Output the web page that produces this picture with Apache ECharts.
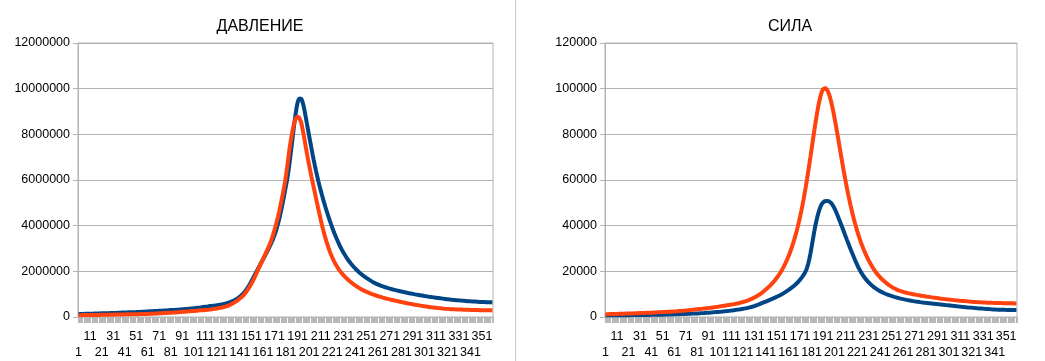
<!DOCTYPE html>
<html>
<head>
<meta charset="utf-8">
<script src="https://cdn.jsdelivr.net/npm/echarts@6/dist/echarts.min.js"></script>
<style>
html,body{margin:0;padding:0;background:#fff;}
#chart{width:1045px;height:361px;}
</style>
</head>
<body>
<div id="chart"></div>
<script>
// Category labels 1..360 (sample index)
const categories = Array.from({length: 360}, (_, i) => String(i + 1));

const titles = ['ДАВЛЕНИЕ', 'СИЛА'];
const pressureTicks = [0, 2000000, 4000000, 6000000, 8000000, 10000000, 12000000];
const forceTicks = [0, 20000, 40000, 60000, 80000, 100000, 120000];

// ДАВЛЕНИЕ, series 1 (blue), values in thousands
const pressureBlueK = [
130,131,132,134,135,137,138,140,141,143,
144,146,147,149,150,152,153,155,156,158,
159,161,162,163,165,166,168,170,172,174,
176,178,180,182,184,186,188,190,192,194,
196,198,200,202,204,206,208,211,213,215,
217,219,222,224,226,229,231,234,236,239,
242,245,248,251,254,257,260,263,266,269,
272,275,278,281,284,287,290,293,296,299,
302,305,308,311,314,318,322,326,330,334,
338,342,346,350,355,360,365,370,375,380,
385,391,397,403,409,415,421,428,435,442,
449,456,463,470,478,484,490,497,504,511,
519,527,535,544,553,563,574,586,599,613,
628,644,661,681,703,727,754,784,817,853,
893,937,985,1037,1092,1154,1224,1302,1388,1480,
1574,1669,1764,1859,1954,2049,2144,2239,2334,2429,
2524,2619,2714,2809,2906,3006,3110,3218,3332,3454,
3591,3741,3906,4086,4281,4496,4731,4981,5241,5506,
5776,6046,6376,6746,7146,7566,7996,8416,8806,9136,
9386,9546,9616,9576,9466,9286,9046,8776,8496,8216,
7936,7661,7391,7126,6871,6626,6391,6166,5951,5751,
5556,5366,5186,5011,4841,4676,4516,4361,4211,4066,
3926,3791,3661,3536,3416,3301,3191,3086,2986,2891,
2801,2716,2636,2560,2488,2420,2355,2293,2234,2178,
2124,2072,2022,1974,1930,1888,1848,1810,1773,1737,
1702,1668,1635,1603,1572,1542,1513,1486,1461,1437,
1415,1394,1374,1355,1337,1320,1304,1288,1273,1258,
1244,1230,1216,1203,1190,1177,1165,1153,1141,1129,
1117,1106,1095,1084,1073,1062,1052,1042,1032,1022,
1012,1002,992,983,974,965,956,947,938,929,
920,912,904,896,888,880,873,866,859,852,
845,838,831,824,817,811,805,799,793,787,
781,775,769,763,758,753,748,743,738,733,
728,723,718,714,710,706,702,698,694,690,
686,683,680,677,674,671,668,665,662,659,
657,655,653,651,649,647,645,643,641,639
];

// ДАВЛЕНИЕ, series 2 (orange), values in thousands
const pressureRedK = [
80,81,81,82,83,84,84,85,86,87,
87,88,89,90,90,91,92,93,93,94,
95,96,96,97,98,99,99,100,101,102,
103,104,105,106,107,108,109,110,111,112,
113,114,115,116,117,118,119,120,121,122,
123,124,125,126,127,128,129,130,132,134,
136,138,140,142,144,146,148,150,153,156,
159,162,165,168,171,174,177,180,183,186,
189,192,195,198,202,206,210,214,219,223,
227,231,235,239,243,247,251,255,259,263,
267,271,275,279,283,287,291,295,299,304,
309,314,319,324,330,337,344,351,359,367,
375,384,393,403,413,424,436,449,464,480,
500,522,546,572,600,630,662,696,732,770,
810,852,896,940,1002,1068,1138,1213,1293,1378,
1468,1563,1663,1768,1878,1994,2106,2216,2324,2430,
2536,2642,2750,2860,2972,3086,3202,3340,3490,3650,
3820,4000,4190,4395,4615,4850,5095,5350,5615,5885,
6225,6595,6985,7365,7705,8000,8260,8480,8640,8740,
8790,8770,8690,8540,8320,8050,7765,7475,7190,6915,
6650,6395,6150,5915,5675,5435,5197,4961,4727,4497,
4273,4055,3850,3660,3482,3314,3154,3002,2862,2734,
2616,2506,2404,2309,2221,2139,2063,1993,1933,1876,
1820,1768,1717,1669,1622,1578,1535,1494,1455,1418,
1382,1348,1315,1283,1253,1224,1197,1170,1145,1120,
1097,1075,1053,1033,1013,995,977,960,942,926,
910,894,880,865,850,836,822,809,796,783,
770,758,746,734,722,711,699,688,677,666,
655,645,634,624,613,603,593,584,574,565,
555,546,537,528,520,511,503,495,487,479,
471,463,456,449,442,435,428,422,416,410,
404,398,393,388,383,378,373,368,364,360,
356,352,349,346,343,340,337,335,333,331,
329,327,325,323,321,319,317,315,313,311,
309,308,307,306,305,304,303,302,301,300,
299,298,297,296,295,294,293,292,291,290
];

// СИЛА, series 1 (blue)
const forceBlue = [
700,706,712,718,724,730,736,742,748,754,
760,766,772,778,784,790,796,802,808,814,
820,826,832,838,844,850,856,862,868,874,
880,886,892,898,904,910,916,922,928,934,
940,946,952,958,964,970,976,982,990,1000,
1014,1028,1042,1056,1071,1086,1101,1116,1132,1148,
1164,1181,1198,1215,1233,1251,1269,1288,1307,1327,
1347,1368,1389,1411,1433,1456,1479,1503,1527,1553,
1580,1608,1637,1667,1698,1730,1763,1797,1832,1868,
1905,1943,1982,2022,2063,2105,2148,2192,2237,2283,
2330,2378,2427,2477,2528,2580,2633,2687,2745,2805,
2867,2931,2997,3065,3135,3207,3281,3357,3435,3515,
3597,3681,3767,3867,3975,4091,4215,4347,4487,4637,
4797,4967,5147,5337,5537,5747,5967,6167,6367,6567,
6772,6977,7187,7397,7612,7827,8047,8267,8492,8722,
8957,9197,9447,9709,9983,10269,10567,10877,11199,11533,
11879,12237,12607,12989,13383,13789,14219,14699,15219,15779,
16379,17019,17699,18399,19199,20199,21499,23199,25299,27799,
30599,33499,36399,39199,41599,43749,45649,47249,48549,49549,
50199,50599,50799,50849,50820,50700,50440,50000,49380,48570,
47600,46520,45350,44120,42850,41560,40260,38950,37630,36310,
34990,33680,32380,31090,29820,28570,27340,26140,24970,23830,
22730,21670,20650,19773,18951,18184,17471,16809,16192,15616,
15077,14575,14105,13666,13255,12871,12510,12172,11852,11551,
11268,11001,10749,10511,10286,10073,9871,9679,9496,9322,
9157,8999,8849,8704,8564,8429,8299,8173,8051,7933,
7819,7709,7603,7501,7402,7306,7214,7125,7039,6956,
6876,6798,6723,6650,6580,6512,6447,6384,6323,6264,
6207,6152,6096,6040,5984,5928,5872,5816,5760,5704,
5648,5592,5536,5480,5424,5368,5312,5257,5202,5147,
5092,5037,4982,4927,4872,4817,4762,4708,4654,4600,
4546,4494,4443,4393,4343,4294,4246,4199,4153,4107,
4062,4018,3975,3932,3890,3849,3809,3769,3730,3692,
3654,3617,3580,3544,3508,3473,3438,3404,3370,3336,
3306,3278,3252,3228,3206,3186,3168,3152,3138,3126,
3116,3107,3099,3092,3086,3081,3077,3074,3072,3071
];

// СИЛА, series 2 (orange)
const forceRed = [
1200,1210,1230,1240,1260,1270,1290,1300,1320,1330,
1350,1370,1380,1400,1410,1430,1450,1460,1480,1500,
1510,1530,1550,1570,1580,1600,1620,1640,1660,1680,
1700,1720,1740,1760,1780,1800,1820,1840,1860,1880,
1900,1930,1950,1970,2000,2020,2050,2070,2100,2130,
2160,2190,2220,2250,2280,2310,2340,2370,2400,2430,
2460,2490,2520,2560,2600,2640,2680,2720,2760,2800,
2850,2890,2940,2990,3040,3090,3140,3200,3260,3310,
3360,3410,3460,3510,3560,3620,3680,3740,3800,3860,
3920,3990,4060,4130,4200,4270,4340,4410,4490,4570,
4650,4730,4810,4890,4970,5050,5130,5210,5290,5370,
5450,5535,5624,5719,5820,5926,6039,6159,6285,6419,
6561,6711,6870,7038,7217,7406,7606,7817,8042,8279,
8530,8797,9078,9377,9693,10028,10382,10758,11155,11576,
12028,12451,12893,13358,13848,14363,14907,15482,16084,16725,
17397,18110,18865,19663,20511,21410,22355,23365,24435,25574,
26781,28069,29436,30892,32440,34090,35843,37703,39688,41798,
44035,46395,48903,51540,54320,57234,60283,63448,66720,70072,
73482,76910,80320,83655,86866,89879,92640,95070,97107,98693,
99778,100330,100350,99935,99120,97921,96368,94494,92339,89946,
87359,84621,81774,78854,75898,72936,69994,67095,64256,61491,
58813,56224,53739,51354,49072,46894,44818,42842,40964,39180,
37487,35882,34360,32917,31550,30253,29025,27859,26756,25707,
24714,23771,22876,22025,21218,20450,19720,19025,18425,17855,
17315,16805,16320,15860,15420,15000,14600,14220,13860,13520,
13200,12900,12620,12360,12120,11895,11685,11490,11310,11142,
10986,10841,10706,10581,10466,10358,10258,10160,10063,9968,
9874,9781,9690,9600,9511,9424,9338,9253,9170,9088,
9007,8928,8850,8773,8698,8624,8551,8480,8410,8341,
8274,8208,8143,8080,8018,7957,7897,7838,7780,7722,
7665,7609,7554,7500,7447,7395,7343,7292,7242,7193,
7145,7097,7050,7004,6959,6914,6870,6827,6784,6742,
6701,6660,6620,6580,6541,6511,6482,6454,6427,6401,
6376,6352,6329,6307,6286,6266,6246,6227,6209,6192,
6175,6159,6144,6129,6115,6101,6088,6075,6063,6051,
6040,6029,6019,6009,5999,5990,5981,5972,5964,5956
];

const THOUSAND = 1000;
const pressureBlue = pressureBlueK.map(v => v * THOUSAND);
const pressureRed = pressureRedK.map(v => v * THOUSAND);

const FONT = '"Liberation Sans", Arial, sans-serif';
const GRID_COLOR = '#b3b3b3';
const BLUE = '#004586';
const RED = '#ff420e';
const LABEL = {color: '#000', fontFamily: FONT, fontSize: 12.5, lineHeight: 16};

// main category axis: line, ticks and the upper row of labels (11, 31, 51, ...)
function xAxisMain(gridIndex) {
  return {
    type: 'category', gridIndex: gridIndex, data: categories, boundaryGap: true, position: 'bottom',
    axisLine: {show: true, lineStyle: {color: GRID_COLOR, width: 1}},
    axisTick: {show: true, interval: 0, length: 6, lineStyle: {color: '#b8b8b8', width: 1}},
    axisLabel: Object.assign({interval: (i) => i % 20 === 10, margin: 12}, LABEL),
    splitLine: {show: false}
  };
}
// companion axis carrying the lower row of labels (1, 21, 41, ...)
function xAxisLower(gridIndex) {
  return {
    type: 'category', gridIndex: gridIndex, data: categories, boundaryGap: true, position: 'bottom', offset: 0,
    axisLine: {show: false}, axisTick: {show: false},
    axisLabel: Object.assign({interval: (i) => i % 20 === 0, margin: 28}, LABEL),
    splitLine: {show: false}
  };
}
function yAxis(gridIndex, ticks) {
  return {
    type: 'value', gridIndex: gridIndex,
    min: ticks[0], max: ticks[ticks.length - 1], interval: ticks[1] - ticks[0],
    axisLine: {show: true, lineStyle: {color: GRID_COLOR, width: 1}},
    axisTick: {show: true, length: 5, lineStyle: {color: GRID_COLOR}},
    axisLabel: {margin: 8, color: '#000', fontFamily: FONT, fontSize: 12.5, formatter: (v) => String(v)},
    splitLine: {show: true, lineStyle: {color: GRID_COLOR, width: 1}}
  };
}
function line(name, data, color, xIdx, yIdx) {
  return {
    name: name, type: 'line', data: data, xAxisIndex: xIdx, yAxisIndex: yIdx,
    showSymbol: false, symbol: 'none', smooth: false,
    lineStyle: {color: color, width: 4}, itemStyle: {color: color},
    emphasis: {disabled: true}
  };
}

const chart = echarts.init(document.getElementById('chart'), null, {renderer: 'canvas'});
chart.setOption({
  animation: false,
  backgroundColor: '#fff',
  textStyle: {fontFamily: FONT},
  title: [
    {text: titles[0], left: 255, top: 14, textAlign: 'center',
     textStyle: {fontFamily: FONT, fontSize: 16, fontWeight: 'normal', color: '#000'}},
    {text: titles[1], left: 785, top: 14, textAlign: 'center',
     textStyle: {fontFamily: FONT, fontSize: 16, fontWeight: 'normal', color: '#000'}}
  ],
  grid: [
    {left: 78, right: 552, top: 43, bottom: 40, show: true, borderColor: GRID_COLOR, borderWidth: 1, backgroundColor: 'transparent'},
    {left: 605, right: 28, top: 43, bottom: 40, show: true, borderColor: GRID_COLOR, borderWidth: 1, backgroundColor: 'transparent'}
  ],
  xAxis: [xAxisMain(0), xAxisLower(0), xAxisMain(1), xAxisLower(1)],
  yAxis: [yAxis(0, pressureTicks), yAxis(1, forceTicks)],
  series: [
    line('Давление 1', pressureBlue, BLUE, 0, 0),
    line('Давление 2', pressureRed, RED, 0, 0),
    line('Сила 1', forceBlue, BLUE, 2, 1),
    line('Сила 2', forceRed, RED, 2, 1)
  ],
  graphic: [
    {type: 'line', shape: {x1: 515.5, y1: 0, x2: 515.5, y2: 361}, style: {stroke: '#c8c8c8', lineWidth: 1}, silent: true}
  ]
});
</script>
</body>
</html>
